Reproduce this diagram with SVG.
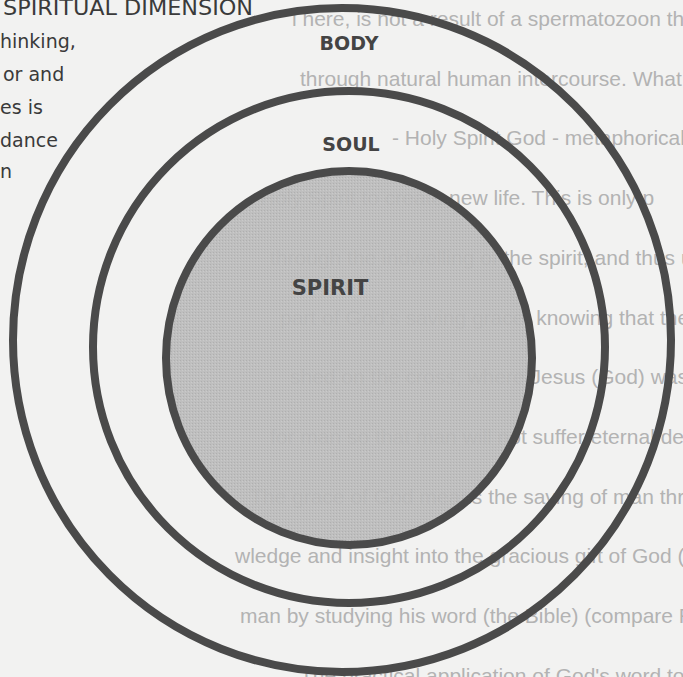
<svg xmlns="http://www.w3.org/2000/svg" width="683" height="677" viewBox="0 0 683 677">
<style>
.bg{font-family:"Liberation Sans",Arial,sans-serif;font-size:21px;fill:#b3b3b3}
.lbl{font-family:"DejaVu Sans",sans-serif;font-weight:bold;font-size:19px;fill:#444;text-anchor:middle}
.side{font-family:"DejaVu Sans",sans-serif;font-size:19px;fill:#3a3a3a}
.ring{fill:none;stroke:#4a4a4a;stroke-width:8}
</style>
<defs>
<pattern id="grain" width="3" height="3" patternUnits="userSpaceOnUse">
<rect width="3" height="3" fill="#bcbcbc"/>
<rect width="1" height="1" fill="#ababab"/>
<rect x="2" y="1" width="1" height="1" fill="#c8c8c8"/>
</pattern>
</defs>
<rect width="683" height="677" fill="#f2f2f1"/>
<g id="bleed">
<text class="bg" x="292" y="26">l here, is not a result of a spermatozoon that inco</text>
<text class="bg" x="300" y="86">through natural human intercourse.  What rebirth m</text>
<text class="bg" x="392" y="145">- Holy Spirit God - metaphorically - insemin</text>
<text class="bg" x="260" y="205">Holy Spirit  to create new life.  This is only p</text>
<text class="bg" x="270" y="265">through the indwelling of the spirit, and thus unc</text>
<text class="bg" x="280" y="325">part of God's saving grace, knowing that the ble</text>
<text class="bg" x="290" y="384">shed on the cross, where Jesus (God) was sacri</text>
<text class="bg" x="270" y="444">for man so that man will not suffer eternal death.</text>
<text class="bg" x="250" y="504">The grace of God means the saving of man through</text>
<text class="bg" x="235" y="563">wledge and insight into the gracious gift of God (Je</text>
<text class="bg" x="240" y="623">man by studying his word (the Bible) (compare Rom</text>
<text class="bg" x="300" y="683">The practical application of God's word to man</text>
</g>
<g id="side-text">
<text class="side" x="3" y="15" style="font-size:21px" textLength="250" lengthAdjust="spacingAndGlyphs">SPIRITUAL DIMENSION</text>
<text class="side" x="0" y="48">hinking,</text>
<text class="side" x="3" y="81">or and</text>
<text class="side" x="0" y="114">es is</text>
<text class="side" x="0" y="147">dance</text>
<text class="side" x="0" y="178">n</text>
</g>
<g id="body">
<ellipse class="ring" cx="342" cy="340" rx="329" ry="332"/>
<text class="lbl" x="349" y="50">BODY</text>
</g>
<g id="soul">
<circle class="ring" cx="349" cy="347" r="256"/>
<text class="lbl" x="351" y="151">SOUL</text>
</g>
<g id="spirit">
<ellipse cx="349" cy="358" rx="183" ry="187" fill="url(#grain)" fill-opacity="0.95" stroke="#4a4a4a" stroke-width="8"/>
<text class="lbl" x="330" y="295" style="font-size:21px">SPIRIT</text>
</g>
</svg>
